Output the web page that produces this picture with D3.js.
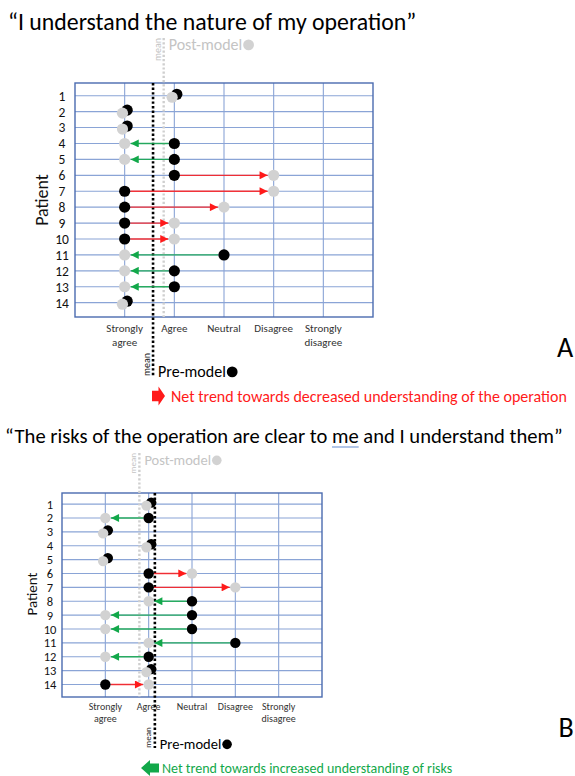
<!DOCTYPE html>
<html><head><meta charset="utf-8">
<script src="https://cdn.jsdelivr.net/npm/d3@7"></script>
<style>body{margin:0;background:#fff}svg{display:block}text{font-family:Carlito,Calibri,Lato,sans-serif}</style>
</head><body><svg id="c" width="575" height="776"></svg>
<script>
// ---------- data ----------
const categories = ["Strongly agree", "Agree", "Neutral", "Disagree", "Strongly disagree"]; // Likert 1..5
const patients = [1, 2, 3, 4, 5, 6, 7, 8, 9, 10, 11, 12, 13, 14];

const titleA = "\u201CI understand the nature of my operation\u201D";
const preA  = [2, 1, 1, 2, 2, 2, 1, 1, 1, 1, 3, 2, 2, 1];
const postA = [2, 1, 1, 1, 1, 4, 4, 3, 2, 2, 1, 1, 1, 1];
const trendA = "Net trend towards decreased understanding of the operation";

const titleB = "\u201CThe risks of the operation are clear to me and I understand them\u201D";
const preB  = [2, 2, 1, 2, 1, 2, 2, 3, 3, 3, 4, 2, 2, 1];
const postB = [2, 1, 1, 2, 1, 3, 4, 2, 1, 1, 2, 1, 2, 2];
const trendB = "Net trend towards increased understanding of risks";

const legendPre = "Pre-model", legendPost = "Post-model", meanLabel = "mean", axisLabel = "Patient";

// ---------- styles ----------
const C = {
  frame: "#4a6bb0", grid: "#8aa4d6", black: "#000", grey: "#d2d2d2",
  greyText: "#c4c4c4", greyLine: "#cfcfcf", red: "#ff1a1a", green: "#12a84a", tick: "#333"
};

const svg = d3.select("#c");
const defs = svg.append("defs");
[["red", C.red], ["green", C.green]].forEach(([id, col]) => {
  defs.append("marker").attr("id", "ah-" + id)
    .attr("viewBox", "0 0 10 10").attr("refX", 10).attr("refY", 5)
    .attr("markerUnits", "userSpaceOnUse").attr("markerWidth", 9).attr("markerHeight", 8)
    .attr("orient", "auto")
    .append("path").attr("d", "M0,0 L10,5 L0,10 Z").attr("fill", col);
});

function panel(L, title, pre, post, trend, trendDir, trendColor, letter) {
  const g = svg.append("g");
  const x = d3.scaleLinear().domain([0, 6]).range([L.left, L.right]);
  const y = d3.scaleLinear().domain([0.2, 14.9]).range([L.top, L.bottom]);

  // title
  const t = g.append("text").attr("x", L.titleX).attr("y", L.titleY)
    .attr("font-size", L.titleFont).attr("fill", "#000").text(title);

  // grid
  g.selectAll(".hg").data(patients).join("line")
    .attr("x1", L.left).attr("x2", L.right)
    .attr("y1", d => y(d)).attr("y2", d => y(d))
    .attr("stroke", C.grid).attr("stroke-width", 1.1);
  g.selectAll(".vg").data(categories).join("line")
    .attr("x1", (d, i) => x(i + 1)).attr("x2", (d, i) => x(i + 1))
    .attr("y1", L.top).attr("y2", L.bottom)
    .attr("stroke", C.grid).attr("stroke-width", 1.1);
  g.append("rect").attr("x", L.left).attr("y", L.top)
    .attr("width", L.right - L.left).attr("height", L.bottom - L.top)
    .attr("fill", "none").attr("stroke", C.frame).attr("stroke-width", 1.4);

  // row labels
  g.selectAll(".rl").data(patients).join("text")
    .attr("x", L.rowX).attr("y", d => y(d)).attr("dy", "0.36em")
    .attr("text-anchor", "middle").attr("font-size", L.rowFont).attr("fill", "#111")
    .text(d => d);
  g.append("text").attr("transform", `translate(${L.patX},${L.patY}) rotate(-90)`)
    .attr("text-anchor", "middle").attr("font-size", L.patFont).attr("fill", "#111")
    .text(axisLabel);

  // category labels
  categories.forEach((c, i) => {
    const words = c.split(" ");
    const tx = g.append("text").attr("x", x(i + 1)).attr("y", L.tickY)
      .attr("text-anchor", "middle").attr("font-size", L.tickFont).attr("fill", C.tick);
    words.forEach((w, k) => tx.append("tspan").attr("x", x(i + 1)).attr("dy", k ? L.tickDy : 0).text(w));
  });

  // means
  const mPre = d3.mean(pre), mPost = d3.mean(post);
  g.append("line").attr("x1", x(mPost)).attr("x2", x(mPost))
    .attr("y1", L.postTop).attr("y2", L.bottom)
    .attr("stroke", C.greyLine).attr("stroke-width", 2.4).attr("stroke-dasharray", "2.2,2");
  g.append("line").attr("x1", x(mPre)).attr("x2", x(mPre))
    .attr("y1", L.top).attr("y2", L.preBottom)
    .attr("stroke", C.black).attr("stroke-width", 2.6).attr("stroke-dasharray", "2.4,2.2");

  // legends
  g.append("text").attr("transform", `translate(${x(mPost) - 3},${L.postTop}) rotate(-90)`)
    .attr("text-anchor", "end").attr("font-size", L.meanFont).attr("fill", C.greyText).text(meanLabel);
  const pt = g.append("text").attr("x", x(mPost) + 5).attr("y", L.postY)
    .attr("font-size", L.legFont).attr("fill", C.greyText).text(legendPost);
  const pw = pt.node().getComputedTextLength();
  g.append("circle").attr("cx", x(mPost) + 5 + pw + L.legR + 1).attr("cy", L.postY - L.legFont * 0.32)
    .attr("r", L.legR).attr("fill", C.grey);

  g.append("text").attr("transform", `translate(${x(mPre) - 3.5},${L.preBottom}) rotate(-90)`)
    .attr("text-anchor", "start").attr("font-size", L.meanFont).attr("fill", "#222").text(meanLabel);
  const qt = g.append("text").attr("x", x(mPre) + 5).attr("y", L.preY)
    .attr("font-size", L.legFont).attr("fill", "#000").text(legendPre);
  const qw = qt.node().getComputedTextLength();
  g.append("circle").attr("cx", x(mPre) + 5 + qw + L.legR + 1).attr("cy", L.preY - L.legFont * 0.32)
    .attr("r", L.legR).attr("fill", C.black);

  // arrows and points
  const rows = patients.map((p, i) => ({ p, a: pre[i], b: post[i] }));
  rows.forEach(d => {
    const cy = y(d.p);
    if (d.a === d.b) {
      g.append("circle").attr("cx", x(d.a) + 2.5).attr("cy", cy - 1.5).attr("r", L.r).attr("fill", C.black);
      g.append("circle").attr("cx", x(d.a) - 2.2).attr("cy", cy + 1.5).attr("r", L.r).attr("fill", C.grey);
    } else {
      const dir = d.b > d.a ? 1 : -1;
      const col = dir > 0 ? "red" : "green";
      g.append("line").attr("x1", x(d.a) + dir * L.r).attr("x2", x(d.b) - dir * (L.r + 0.5))
        .attr("y1", cy).attr("y2", cy)
        .attr("stroke", dir > 0 ? C.red : C.green).attr("stroke-width", 1.3)
        .attr("stroke-opacity", 0.85)
        .attr("marker-end", `url(#ah-${col})`);
      g.append("circle").attr("cx", x(d.a)).attr("cy", cy).attr("r", L.r).attr("fill", C.black);
      g.append("circle").attr("cx", x(d.b)).attr("cy", cy).attr("r", L.r).attr("fill", C.grey);
    }
  });

  // trend block arrow + text
  const ax = L.arrowX, ay = L.trendY, s = L.arrowS;
  const shape = [[0, -0.28], [0.5, -0.28], [0.5, -0.5], [1, 0], [0.5, 0.5], [0.5, 0.28], [0, 0.28]];
  const pts = shape.map(p => [trendDir > 0 ? p[0] : 1 - p[0], p[1]]);
  g.append("path").attr("d", "M" + pts.map(p => [ax + p[0] * s.w, ay + p[1] * s.h].join(",")).join("L") + "Z")
    .attr("fill", trendColor);
  g.append("text").attr("x", L.trendX).attr("y", ay).attr("dy", "0.35em")
    .attr("font-size", L.trendFont).attr("fill", trendColor).text(trend);

  // panel letter
  g.append("text").attr("x", L.letterX).attr("y", L.letterY).attr("text-anchor", "middle")
    .attr("font-size", L.letterFont).attr("fill", "#000").text(letter);
  return { g, t };
}

panel({
  left: 75, right: 373, top: 83, bottom: 317, r: 5.6,
  titleX: 8, titleY: 30, titleFont: 23.8,
  rowX: 62, rowFont: 13.5, patX: 48, patY: 200, patFont: 18,
  tickY: 332, tickDy: 13.5, tickFont: 11,
  postTop: 38, preBottom: 376, meanFont: 10, legFont: 16, legR: 5.4,
  postY: 50, preY: 377,
  arrowX: 152, trendY: 396, arrowS: { w: 13, h: 19 }, trendX: 171, trendFont: 16,
  letterX: 565, letterY: 357, letterFont: 28
}, titleA, preA, postA, trendA, 1, C.red, "A");

const pb = panel({
  left: 62, right: 322, top: 493, bottom: 697, r: 5.2,
  titleX: 5, titleY: 443, titleFont: 20.6,
  rowX: 50, rowFont: 12.5, patX: 37, patY: 594, patFont: 15,
  tickY: 710, tickDy: 11.5, tickFont: 10,
  postTop: 453, preBottom: 748, meanFont: 9, legFont: 14.5, legR: 4.8,
  postY: 465, preY: 749,
  arrowX: 141, trendY: 768, arrowS: { w: 18, h: 16 }, trendX: 162, trendFont: 14,
  letterX: 566, letterY: 737, letterFont: 28
}, titleB, preB, postB, trendB, -1, C.green, "B");

// spell-check squiggle under "me" in the second title (as in the source image)
(function () {
  const node = pb.t.node();
  const idx = titleB.indexOf(" me ") + 1;
  const x0 = 5 + node.getSubStringLength(0, idx);
  const w = node.getSubStringLength(idx, 2);
  pb.g.append("line").attr("x1", x0).attr("x2", x0 + w).attr("y1", 447).attr("y2", 447)
    .attr("stroke", "#7d9fd8").attr("stroke-width", 1.2);
})();
</script></body></html>
